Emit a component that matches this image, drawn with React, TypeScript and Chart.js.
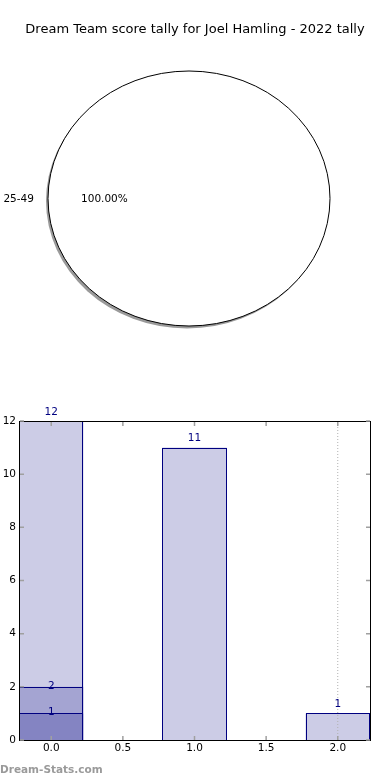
import React, { useEffect, useRef } from 'react';
import { Chart, registerables } from 'chart.js';

Chart.register(...registerables);

const TITLE = 'Dream Team score tally for Joel Hamling - 2022 tally';
const WATERMARK = 'Dream-Stats.com';

const pieLabels = ['25-49'];
const pieValues = [100];

const barPositions = [0, 1, 2];
const tallyTotals = [12, 11, 1];
const tallyMidPositions = [0];
const tallyMid = [2];
const tallyLowPositions = [0];
const tallyLow = [1];
const markerPositions = [2];
const xTicks = [0, 0.5, 1, 1.5, 2];
const yTicks = [0, 2, 4, 6, 8, 10, 12];

const FONT = "'DejaVu Sans', 'Liberation Sans', sans-serif";
const NAVY = '#000080';
const BAR_FILL = 'rgba(0,0,128,0.2)';
const ELLIPSE_X = 141 / 127.5;

const piePlugin = {
  id: 'piePlugin',
  beforeDatasetsDraw(chart: any) {
    const arc = chart.getDatasetMeta(0).data[0];
    const { x, y, outerRadius: r } = arc;
    const ctx = chart.ctx;
    ctx.save();
    ctx.fillStyle = '#9a9a9a';
    ctx.beginPath();
    ctx.ellipse(x - 2, y + 2.5, r * ELLIPSE_X, r, 0, 0, Math.PI * 2);
    ctx.fill();
    ctx.restore();
    ctx.save();
    ctx.translate(x, y);
    ctx.scale(ELLIPSE_X, 1);
    ctx.translate(-x, -y);
  },
  afterDatasetsDraw(chart: any) {
    const ctx = chart.ctx;
    ctx.restore();
    const arc = chart.getDatasetMeta(0).data[0];
    const { x, y, outerRadius: r } = arc;
    ctx.save();
    ctx.strokeStyle = '#000';
    ctx.lineWidth = 1;
    ctx.beginPath();
    ctx.ellipse(x, y, r * ELLIPSE_X, r, 0, 0, Math.PI * 2);
    ctx.stroke();
    ctx.restore();
  },
  afterDraw(chart: any) {
    const ctx = chart.ctx;
    const arc = chart.getDatasetMeta(0).data[0];
    const { x, y, outerRadius: r } = arc;
    const rx = r * ELLIPSE_X;
    ctx.save();
    ctx.fillStyle = '#000';
    ctx.font = `13px ${FONT}`;
    ctx.textAlign = 'center';
    ctx.textBaseline = 'middle';
    ctx.fillText(TITLE, chart.width / 2, 30);
    ctx.font = `10.5px ${FONT}`;
    ctx.textAlign = 'right';
    ctx.fillText(pieLabels[0], x - 1.1 * rx, y + 1);
    ctx.textAlign = 'center';
    const total = pieValues.reduce((a, b) => a + b, 0);
    ctx.fillText(((pieValues[0] / total) * 100).toFixed(2) + '%', x - 0.6 * rx, y + 1);
    ctx.restore();
  },
};

const barDecor = {
  id: 'barDecor',
  afterDatasetsDraw(chart: any) {
    const ctx = chart.ctx;
    ctx.save();
    ctx.strokeStyle = NAVY;
    ctx.lineWidth = 1;
    chart.data.datasets.forEach((ds: any, di: number) => {
      if (ds.type === 'line') return;
      const meta = chart.getDatasetMeta(di);
      meta.data.forEach((el: any) => {
        const l = Math.round(el.x - el.width / 2) + 0.5;
        const r = Math.round(el.x + el.width / 2) - 0.5;
        const t = Math.round(el.y) + 0.5;
        const b = Math.round(el.base) + 0.5;
        ctx.strokeRect(l, t, r - l, b - t);
      });
    });
    ctx.fillStyle = NAVY;
    ctx.font = `10.5px ${FONT}`;
    ctx.textAlign = 'center';
    ctx.textBaseline = 'middle';
    chart.data.datasets.forEach((ds: any, di: number) => {
      if (ds.type === 'line') return;
      const meta = chart.getDatasetMeta(di);
      meta.data.forEach((el: any, i: number) => {
        const v = ds.data[i].y;
        const dy = di === 0 ? -9 : -1;
        ctx.fillText(String(v), el.x, el.y + dy);
      });
    });
    ctx.restore();
  },
  afterDraw(chart: any) {
    const ctx = chart.ctx;
    const { left, right, top, bottom } = chart.chartArea;
    ctx.save();
    ctx.strokeStyle = '#000';
    ctx.lineWidth = 1;
    ctx.strokeRect(left + 0.5, top + 0.5, right - left, bottom - top);
    ctx.strokeStyle = '#a0a0a0';
    ctx.lineWidth = 1.5;
    const xs = chart.scales.x;
    const ys = chart.scales.y;
    xs.ticks.forEach((t: any) => {
      const px = xs.getPixelForValue(t.value);
      ctx.beginPath();
      ctx.moveTo(px, bottom);
      ctx.lineTo(px, bottom - 4);
      ctx.moveTo(px, top + 1);
      ctx.lineTo(px, top + 5);
      ctx.stroke();
    });
    ys.ticks.forEach((t: any) => {
      const py = ys.getPixelForValue(t.value);
      ctx.beginPath();
      ctx.moveTo(left + 1, py);
      ctx.lineTo(left + 5, py);
      ctx.moveTo(right, py);
      ctx.lineTo(right - 4, py);
      ctx.stroke();
    });
    ctx.fillStyle = '#9a9a9a';
    ctx.font = `bold 10.5px ${FONT}`;
    ctx.textAlign = 'left';
    ctx.textBaseline = 'middle';
    ctx.fillText(WATERMARK, 0, 380);
    ctx.restore();
  },
};

export default function App() {
  const pieRef = useRef<HTMLCanvasElement | null>(null);
  const barRef = useRef<HTMLCanvasElement | null>(null);

  useEffect(() => {
    const pie = new Chart(pieRef.current as HTMLCanvasElement, {
      type: 'pie',
      data: {
        labels: pieLabels,
        datasets: [
          {
            data: pieValues,
            backgroundColor: '#ffffff',
            borderWidth: 0,
          },
        ],
      },
      options: {
        responsive: true,
        maintainAspectRatio: false,
        animation: false,
        radius: 127.5,
        layout: { padding: { left: 0, right: 12, top: 7, bottom: 0 } },
        plugins: { legend: { display: false }, tooltip: { enabled: false }, title: { display: false } },
      } as any,
      plugins: [piePlugin],
    });

    const yMin = yTicks[0];
    const yMax = yTicks[yTicks.length - 1];
    const barCommon = {
      type: 'bar',
      backgroundColor: BAR_FILL,
      borderWidth: 0,
      inflateAmount: 0,
      grouped: false,
      barPercentage: 0.9,
      categoryPercentage: 1,
    };
    const bar = new Chart(barRef.current as HTMLCanvasElement, {
      type: 'bar',
      data: {
        datasets: [
          { ...barCommon, data: barPositions.map((x, i) => ({ x, y: tallyTotals[i] })) },
          { ...barCommon, data: tallyMidPositions.map((x, i) => ({ x, y: tallyMid[i] })) },
          { ...barCommon, data: tallyLowPositions.map((x, i) => ({ x, y: tallyLow[i] })) },
          {
            type: 'line',
            order: -1,
            data: markerPositions.flatMap((x) => [{ x, y: yMin }, { x, y: yMax }]),
            borderColor: '#b0b0b0',
            borderWidth: 1,
            borderDash: [1, 2],
            pointRadius: 0,
            fill: false,
          },
        ] as any,
      },
      options: {
        responsive: true,
        maintainAspectRatio: false,
        animation: false,
        layout: { padding: { left: 0, right: 20, top: 31, bottom: 0 } },
        plugins: { legend: { display: false }, tooltip: { enabled: false }, title: { display: false } },
        scales: {
          x: {
            type: 'linear',
            offset: false,
            min: -0.225,
            max: 2.225,
            afterBuildTicks: (s: any) => {
              s.ticks = xTicks.map((value) => ({ value }));
            },
            afterFit: (s: any) => {
              s.height = 40;
            },
            grid: { display: false, drawTicks: false },
            border: { display: false },
            ticks: {
              color: '#000',
              padding: 2,
              maxRotation: 0,
              autoSkip: false,
              font: { family: FONT, size: 10.5 },
              callback: (v: any) => Number(v).toFixed(1),
            },
          },
          y: {
            type: 'linear',
            min: yMin,
            max: yMax,
            afterBuildTicks: (s: any) => {
              s.ticks = yTicks.map((value) => ({ value }));
            },
            afterFit: (s: any) => {
              s.width = 19;
            },
            grid: { display: false, drawTicks: false },
            border: { display: false },
            ticks: {
              color: '#000',
              padding: 3,
              autoSkip: false,
              font: { family: FONT, size: 10.5 },
              callback: (v: any) => String(v),
            },
          },
        },
      } as any,
      plugins: [barDecor],
    });

    return () => {
      pie.destroy();
      bar.destroy();
    };
  }, []);

  return (
    <div style={{ position: 'absolute', left: 0, top: 0, width: 390, height: 780, background: '#fff' }}>
      <div style={{ position: 'absolute', left: 0, top: 0, width: 390, height: 390 }}>
        <canvas ref={pieRef} />
      </div>
      <div style={{ position: 'absolute', left: 0, top: 390, width: 390, height: 390 }}>
        <canvas ref={barRef} />
      </div>
    </div>
  );
}
